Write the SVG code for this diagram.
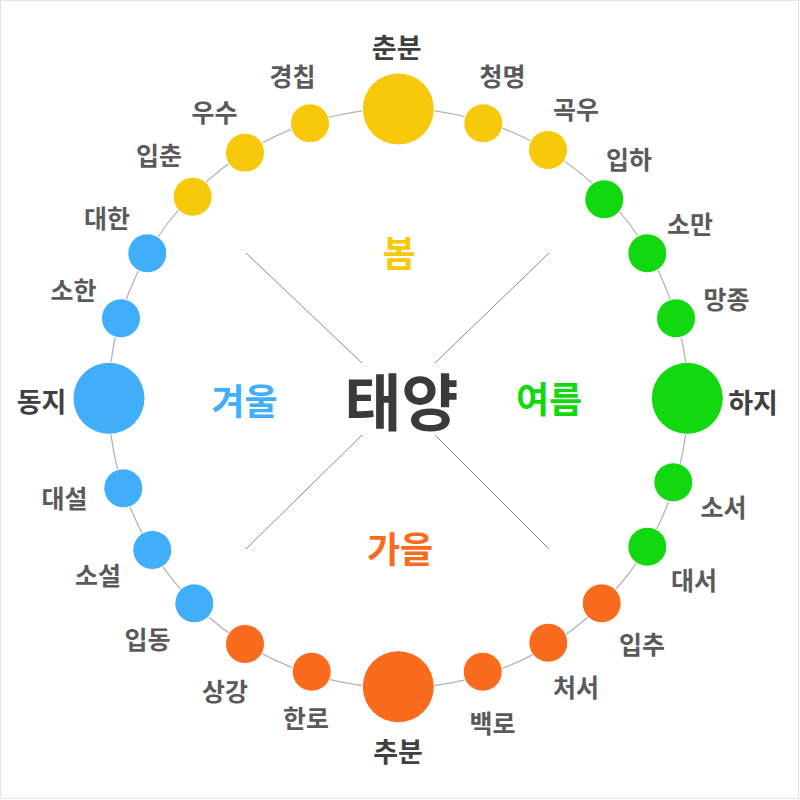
<svg xmlns="http://www.w3.org/2000/svg" width="800" height="800" viewBox="0 0 800 800">
<style>
text{font-family:"Noto Sans CJK KR","Noto Sans",sans-serif;font-weight:bold;text-anchor:middle;dominant-baseline:central}
.lb{font-size:25px;fill:#5a5a5a}
.lbb{font-size:27px;fill:#404040}
.sp{fill:#F8C80A}.su{fill:#12D90F}.au{fill:#FB6B1E}.wi{fill:#41AEFC}
circle.n{stroke:#fff;stroke-width:1}
.ssn{font-size:36px}
</style>
<rect x="0.5" y="0.5" width="798" height="798" fill="#fff" stroke="#e2e2e2" stroke-width="1"/>
<g id="connectors" fill="none">
<circle cx="398.3" cy="398.3" r="289.5" stroke="#b5b5b5" stroke-width="1.3"/>
<g stroke="#8a8a8a" stroke-width="1">
<line x1="246" y1="253" x2="362" y2="363"/>
<line x1="549" y1="253" x2="435" y2="363"/>
<line x1="362" y1="435" x2="246" y2="549"/>
<line x1="435" y1="435" x2="549" y2="549"/>
</g>
</g>
<g id="sun"><text x="401.5" y="399" style="font-size:62px;fill:#3a3a3a">태양</text></g>
<g id="season-spring"><text class="ssn sp" x="399" y="251">봄</text></g>
<g id="season-summer"><text class="ssn su" x="549" y="396.5">여름</text></g>
<g id="season-autumn"><text class="ssn au" x="400" y="546.5">가을</text></g>
<g id="season-winter"><text class="ssn wi" x="244.5" y="399">겨울</text></g>

<g id="t-chunbun"><circle class="n sp" cx="398.3" cy="109" r="36"/><text class="lbb" x="396.7" y="46.3">춘분</text></g>
<g id="t-cheongmyeong"><circle class="n sp" cx="483.3" cy="123.3" r="19.5"/><text class="lb" x="502.5" y="75">청명</text></g>
<g id="t-gogu"><circle class="n sp" cx="548" cy="150" r="19.5"/><text class="lb" x="576" y="107.5">곡우</text></g>
<g id="t-ipha"><circle class="n su" cx="604.3" cy="199.3" r="19.5"/><text class="lb" x="629" y="157.5">입하</text></g>
<g id="t-soman"><circle class="n su" cx="647.3" cy="253.3" r="19.5"/><text class="lb" x="690" y="222.5">소만</text></g>
<g id="t-mangjong"><circle class="n su" cx="676" cy="318.3" r="19.5"/><text class="lb" x="726.5" y="297.5">망종</text></g>
<g id="t-haji"><circle class="n su" cx="687.3" cy="398.3" r="36"/><text class="lbb" x="753" y="401.7">하지</text></g>
<g id="t-soseo"><circle class="n su" cx="673.3" cy="482.3" r="19.5"/><text class="lb" x="723.5" y="505.8">소서</text></g>
<g id="t-daeseo"><circle class="n su" cx="647.3" cy="546.7" r="19.5"/><text class="lb" x="694" y="579">대서</text></g>
<g id="t-ipchu"><circle class="n au" cx="601.7" cy="603.3" r="19.5"/><text class="lb" x="642" y="643">입추</text></g>
<g id="t-cheoseo"><circle class="n au" cx="548.3" cy="642.7" r="19.5"/><text class="lb" x="576" y="686">처서</text></g>
<g id="t-baengno"><circle class="n au" cx="482.7" cy="671.7" r="19.5"/><text class="lb" x="492.5" y="721.7">백로</text></g>
<g id="t-chubun"><circle class="n au" cx="398.3" cy="686.7" r="36"/><text class="lbb" x="398" y="750">추분</text></g>
<g id="t-hanro"><circle class="n au" cx="311.7" cy="671.7" r="19.5"/><text class="lb" x="306" y="716.7">한로</text></g>
<g id="t-sanggang"><circle class="n au" cx="245" cy="644" r="19.5"/><text class="lb" x="225" y="690">상강</text></g>
<g id="t-ipdong"><circle class="n wi" cx="194.3" cy="603.3" r="19.5"/><text class="lb" x="147.5" y="637.8">입동</text></g>
<g id="t-soseol"><circle class="n wi" cx="152.3" cy="550" r="19.5"/><text class="lb" x="98" y="574">소설</text></g>
<g id="t-daeseol"><circle class="n wi" cx="123.3" cy="488.3" r="19.5"/><text class="lb" x="64.5" y="496.7">대설</text></g>
<g id="t-dongji"><circle class="n wi" cx="109" cy="398.3" r="36"/><text class="lbb" x="41.5" y="400">동지</text></g>
<g id="t-sohan"><circle class="n wi" cx="121" cy="318.3" r="19.5"/><text class="lb" x="73.5" y="288.7">소한</text></g>
<g id="t-daehan"><circle class="n wi" cx="147.3" cy="253.3" r="19.5"/><text class="lb" x="107" y="217">대한</text></g>
<g id="t-ipchun"><circle class="n sp" cx="192.7" cy="196.7" r="19.5"/><text class="lb" x="159" y="153.8">입춘</text></g>
<g id="t-usu"><circle class="n sp" cx="245" cy="152.7" r="19.5"/><text class="lb" x="214.5" y="110.8">우수</text></g>
<g id="t-gyeongchip"><circle class="n sp" cx="310" cy="123.3" r="19.5"/><text class="lb" x="292.5" y="75">경칩</text></g>
</svg>
